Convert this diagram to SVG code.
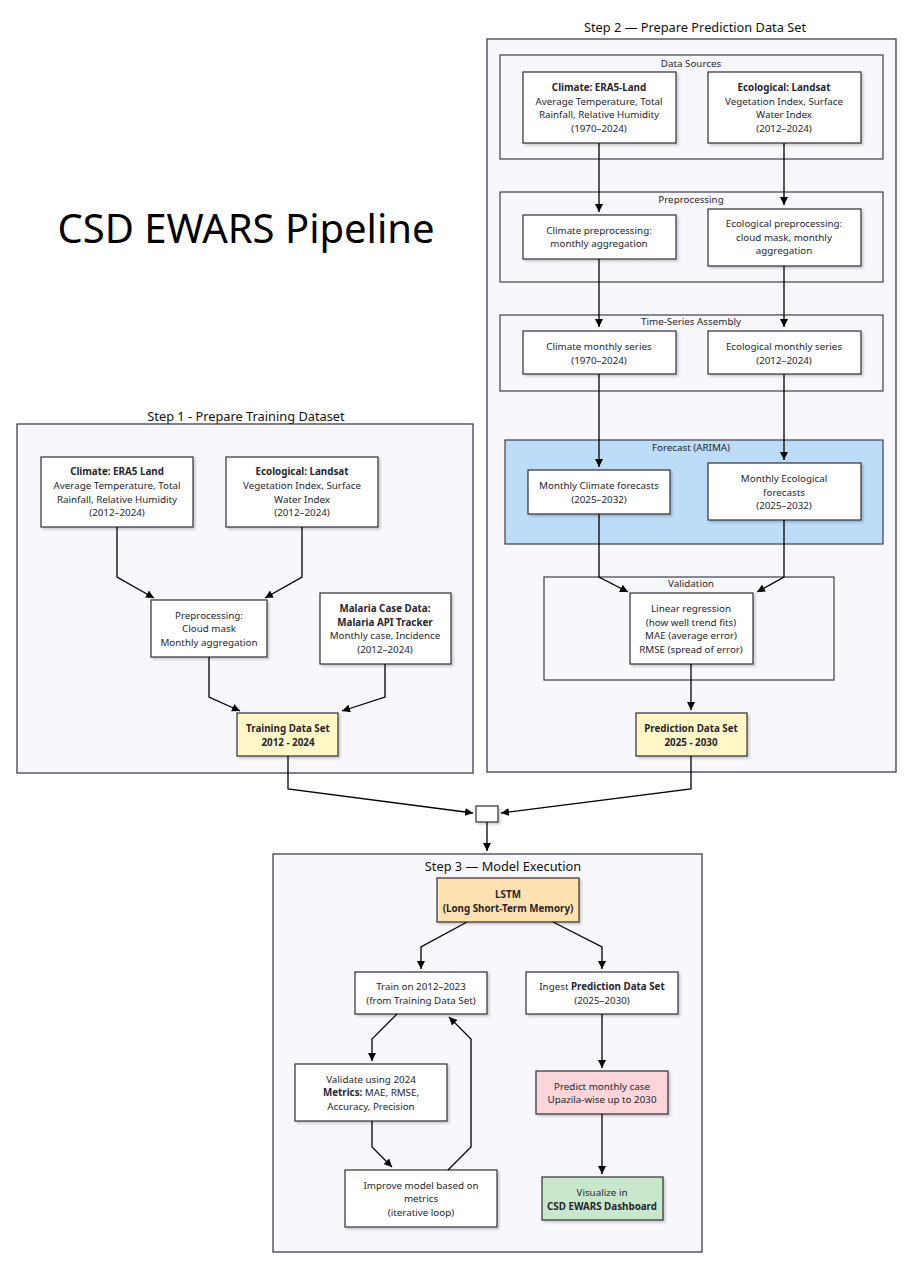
<svg xmlns="http://www.w3.org/2000/svg" width="922" height="1280" viewBox="0 0 922 1280">
<defs>
<style>
text{font-family:"Noto Sans","Liberation Sans",sans-serif;fill:#26262e;}
.t{font-size:9.8px;text-anchor:middle;dominant-baseline:central;}
.b{font-weight:700;}
.lbl{font-size:9.8px;text-anchor:middle;dominant-baseline:central;}
.step{font-size:12.8px;text-anchor:middle;dominant-baseline:central;fill:#111;}
.cont{fill:#f8f8fc;stroke:#3f3f4a;stroke-width:1.3;}
.sub{fill:#f8f8fc;stroke:#3f3f4a;stroke-width:1.2;}
.box{fill:#ffffff;stroke:#2e2e36;stroke-width:1.2;filter:url(#sh);}
.yel{fill:#fff8c6;}
.blue{fill:#bcdcf8;}
.org{fill:#ffe0b0;}
.pink{fill:#fbd5d9;}
.grn{fill:#c9e7cb;}
.c{fill:none;stroke:#000;stroke-width:1.3;marker-end:url(#ah);}
</style>
<filter id="sh" x="-10%" y="-10%" width="130%" height="140%">
<feDropShadow dx="2" dy="2" stdDeviation="1" flood-color="#000" flood-opacity="0.18"/>
</filter>
<marker id="ah" viewBox="0 0 10 10" refX="10" refY="5" markerWidth="8" markerHeight="8" markerUnits="userSpaceOnUse" orient="auto">
<path d="M0,0 L10,5 L0,10 z" fill="#000"/>
</marker>
</defs>
<rect width="922" height="1280" fill="#ffffff"/>

<text x="246" y="227" style="font-size:40px;text-anchor:middle;dominant-baseline:central;fill:#000">CSD EWARS Pipeline</text>

<!-- Step 2 -->
<g id="step2">
<text class="step" x="695" y="27">Step 2 — Prepare Prediction Data Set</text>
<rect class="cont" x="487" y="39" width="409" height="733"/>
</g>
<g id="data-sources">
<rect class="sub" x="500" y="55" width="383" height="104"/>
<text class="lbl" x="691" y="63">Data Sources</text>
</g>
<g id="preprocessing2">
<rect class="sub" x="500" y="192" width="383" height="90"/>
<text class="lbl" x="691" y="199">Preprocessing</text>
</g>
<g id="timeseries">
<rect class="sub" x="500" y="315" width="383" height="76"/>
<text class="lbl" x="691" y="321">Time-Series Assembly</text>
</g>
<g id="forecast">
<rect class="sub blue" x="505" y="440" width="378" height="104"/>
<text class="lbl" x="691" y="447">Forecast (ARIMA)</text>
</g>
<g id="validation">
<rect class="sub" x="544" y="577" width="290" height="103"/>
<text class="lbl" x="691" y="583">Validation</text>
</g>

<g id="climate2">
<rect class="box" x="523" y="72" width="153" height="71"/>
<text class="t b" x="599" y="87">Climate: ERA5-Land</text>
<text class="t" x="599" y="101">Average Temperature, Total</text>
<text class="t" x="599" y="114">Rainfall, Relative Humidity</text>
<text class="t" x="599" y="128">(1970–2024)</text>
</g>
<g id="eco2">
<rect class="box" x="708" y="72" width="153" height="71"/>
<text class="t b" x="784" y="87">Ecological: Landsat</text>
<text class="t" x="784" y="101">Vegetation Index, Surface</text>
<text class="t" x="784" y="114">Water Index</text>
<text class="t" x="784" y="128">(2012–2024)</text>
</g>
<g id="climprep">
<rect class="box" x="523" y="215" width="153" height="44"/>
<text class="t" x="599" y="230">Climate preprocessing:</text>
<text class="t" x="599" y="243">monthly aggregation</text>
</g>
<g id="ecoprep">
<rect class="box" x="708" y="209" width="153" height="57"/>
<text class="t" x="784" y="223">Ecological preprocessing:</text>
<text class="t" x="784" y="237">cloud mask, monthly</text>
<text class="t" x="784" y="250">aggregation</text>
</g>
<g id="climseries">
<rect class="box" x="523" y="331" width="153" height="43"/>
<text class="t" x="599" y="346">Climate monthly series</text>
<text class="t" x="599" y="360">(1970–2024)</text>
</g>
<g id="ecoseries">
<rect class="box" x="708" y="331" width="153" height="43"/>
<text class="t" x="784" y="346">Ecological monthly series</text>
<text class="t" x="784" y="360">(2012–2024)</text>
</g>
<g id="climfc">
<rect class="box" x="528" y="470" width="142" height="44"/>
<text class="t" x="599" y="485">Monthly Climate forecasts</text>
<text class="t" x="599" y="499">(2025–2032)</text>
</g>
<g id="ecofc">
<rect class="box" x="708" y="463" width="153" height="57"/>
<text class="t" x="784" y="478">Monthly Ecological</text>
<text class="t" x="784" y="492">forecasts</text>
<text class="t" x="784" y="505">(2025–2032)</text>
</g>
<g id="linreg">
<rect class="box" x="630" y="593" width="123" height="71"/>
<text class="t" x="691" y="608">Linear regression</text>
<text class="t" x="691" y="622">(how well trend fits)</text>
<text class="t" x="691" y="635">MAE (average error)</text>
<text class="t" x="691" y="649">RMSE (spread of error)</text>
</g>
<g id="predset">
<rect class="box yel" x="636" y="713" width="111" height="43"/>
<text class="t b" x="691" y="728">Prediction Data Set</text>
<text class="t b" x="691" y="742">2025 - 2030</text>
</g>

<!-- Step 1 -->
<g id="step1">
<text class="step" x="246" y="416">Step 1 - Prepare Training Dataset</text>
<rect class="cont" x="17" y="424" width="456" height="349"/>
</g>
<g id="climate1">
<rect class="box" x="41" y="457" width="152" height="70"/>
<text class="t b" x="117" y="471">Climate: ERA5 Land</text>
<text class="t" x="117" y="485">Average Temperature, Total</text>
<text class="t" x="117" y="499">Rainfall, Relative Humidity</text>
<text class="t" x="117" y="512">(2012–2024)</text>
</g>
<g id="eco1">
<rect class="box" x="226" y="457" width="152" height="70"/>
<text class="t b" x="302" y="471">Ecological: Landsat</text>
<text class="t" x="302" y="485">Vegetation Index, Surface</text>
<text class="t" x="302" y="499">Water Index</text>
<text class="t" x="302" y="512">(2012–2024)</text>
</g>
<g id="prep1">
<rect class="box" x="151" y="600" width="116" height="57"/>
<text class="t" x="209" y="615">Preprocessing:</text>
<text class="t" x="209" y="628">Cloud mask</text>
<text class="t" x="209" y="642">Monthly aggregation</text>
</g>
<g id="malaria">
<rect class="box" x="320" y="593" width="131" height="71"/>
<text class="t b" x="385" y="608">Malaria Case Data:</text>
<text class="t b" x="385" y="622">Malaria API Tracker</text>
<text class="t" x="385" y="635">Monthly case, Incidence</text>
<text class="t" x="385" y="649">(2012–2024)</text>
</g>
<g id="trainset">
<rect class="box yel" x="237" y="713" width="101" height="43"/>
<text class="t b" x="288" y="728">Training Data Set</text>
<text class="t b" x="288" y="742">2012 - 2024</text>
</g>

<g id="junction">
<rect class="box" x="476" y="806" width="22" height="16"/>
</g>

<!-- Step 3 -->
<g id="step3">
<rect class="cont" x="273" y="854" width="429" height="398"/>
<text class="step" x="503" y="866">Step 3 — Model Execution</text>
</g>
<g id="lstm">
<rect class="box org" x="437" y="878" width="142" height="44"/>
<text class="t b" x="508" y="894">LSTM</text>
<text class="t b" x="508" y="908">(Long Short-Term Memory)</text>
</g>
<g id="train">
<rect class="box" x="355" y="972" width="132" height="42"/>
<text class="t" x="421" y="986">Train on 2012–2023</text>
<text class="t" x="421" y="1000">(from Training Data Set)</text>
</g>
<g id="ingest">
<rect class="box" x="526" y="972" width="152" height="42"/>
<text class="t" x="602" y="986">Ingest <tspan class="b">Prediction Data Set</tspan></text>
<text class="t" x="602" y="1000">(2025–2030)</text>
</g>
<g id="validate">
<rect class="box" x="295" y="1064" width="152" height="57"/>
<text class="t" x="371" y="1079">Validate using 2024</text>
<text class="t" x="371" y="1092"><tspan class="b">Metrics:</tspan> MAE, RMSE,</text>
<text class="t" x="371" y="1106">Accuracy, Precision</text>
</g>
<g id="improve">
<rect class="box" x="345" y="1170" width="152" height="57"/>
<text class="t" x="421" y="1185">Improve model based on</text>
<text class="t" x="421" y="1198">metrics</text>
<text class="t" x="421" y="1212">(iterative loop)</text>
</g>
<g id="predict">
<rect class="box pink" x="536" y="1071" width="132" height="43"/>
<text class="t" x="602" y="1086">Predict monthly case</text>
<text class="t" x="602" y="1099">Upazila-wise up to 2030</text>
</g>
<g id="visualize">
<rect class="box grn" x="542" y="1177" width="121" height="43"/>
<text class="t" x="602" y="1192">Visualize in</text>
<text class="t b" x="602" y="1206">CSD EWARS Dashboard</text>
</g>

<g id="connectors">
<path class="c" d="M599,143 V212"/>
<path class="c" d="M784,143 V205"/>
<path class="c" d="M599,259 V327"/>
<path class="c" d="M784,266 V327"/>
<path class="c" d="M599,374 V467"/>
<path class="c" d="M784,374 V460"/>
<path class="c" d="M599,514 V577 L628,592"/>
<path class="c" d="M784,520 V577 L757,592"/>
<path class="c" d="M691,664 V710"/>
<path class="c" d="M117,527 V577 L154,598"/>
<path class="c" d="M302,527 V577 L265,598"/>
<path class="c" d="M209,657 V697 L240,711"/>
<path class="c" d="M385,664 V697 L342,711"/>
<path class="c" d="M288,756 V789 L473,813"/>
<path class="c" d="M691,756 V789 L501,813"/>
<path class="c" d="M487,822 V851"/>
<path class="c" d="M467,922 L421,947 V969"/>
<path class="c" d="M553,922 L602,947 V969"/>
<path class="c" d="M397,1014 L372,1039 V1061"/>
<path class="c" d="M372,1121 V1147 L392,1167"/>
<path class="c" d="M448,1170 L471,1147 V1039 L449,1017"/>
<path class="c" d="M602,1014 V1068"/>
<path class="c" d="M602,1114 V1174"/>
</g>
</svg>
